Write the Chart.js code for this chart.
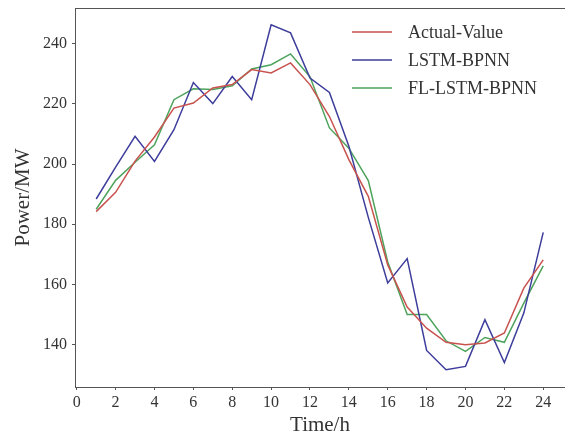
<!DOCTYPE html>
<html>
<head>
<meta charset="utf-8">
<script src="https://cdn.jsdelivr.net/npm/chart.js@4.4.0/dist/chart.umd.min.js"></script>
<style>
    html, body { margin: 0; padding: 0; background: #fff; }
    #wrap { width: 565px; height: 441px; }
</style>
</head>
<body>
<div id="wrap"><canvas id="chart" width="565" height="441"></canvas></div>
<script>
// Data
const hours = [1, 2, 3, 4, 5, 6, 7, 8, 9, 10, 11, 12, 13, 14, 15, 16, 17, 18, 19, 20, 21, 22, 23, 24];
const actualValue = [184.2, 190.6, 201.0, 209.0, 218.6, 220.3, 225.3, 226.4, 231.4, 230.3, 233.6, 226.4,
    215.8, 201.5, 189.3, 166.5, 152.5, 145.5, 140.8, 140.0, 140.6, 143.9, 158.8, 168.2];
const lstmBpnn = [188.4, 199.0, 209.2, 200.9, 211.4, 227.1, 220.1, 229.1, 221.4, 246.3, 243.6, 228.6,
    223.8, 205.9, 182.3, 160.5, 168.6, 138.1, 131.7, 132.8, 148.3, 134.1, 150.5, 177.3];
const flLstmBpnn = [185.0, 194.6, 200.6, 206.4, 221.4, 225.0, 224.8, 226.0, 231.6, 233.0, 236.6, 229.0,
    212.0, 205.3, 194.5, 167.5, 150.0, 150.0, 141.3, 137.8, 142.4, 140.8, 153.8, 166.2];
const seriesNames = ['Actual-Value', 'LSTM-BPNN', 'FL-LSTM-BPNN'];
const xTicks = [0, 2, 4, 6, 8, 10, 12, 14, 16, 18, 20, 22, 24];
const yTicks = [140, 160, 180, 200, 220, 240];

const colors = ['#c8524e', '#3d3d9c', '#4ea35c'];
const axisColor = '#555555';
const textColor = '#333333';
const serif = '"Liberation Serif", "DejaVu Serif", serif';

function toPoints(values) {
    return hours.map((h, i) => ({ x: h, y: values[i] }));
}

// Top spine plus the legend inside the top right corner
const framePlugin = {
    id: 'frame',
    afterDraw(chart) {
        const ctx = chart.ctx;
        const area = chart.chartArea;
        ctx.save();
        ctx.strokeStyle = axisColor;
        ctx.lineWidth = 1;
        ctx.beginPath();
        ctx.moveTo(area.left, area.top + 0.5);
        ctx.lineTo(area.right, area.top + 0.5);
        ctx.stroke();

        const x0 = area.left + 277;
        const y0 = area.top + 24;
        ctx.font = '18px ' + serif;
        ctx.textBaseline = 'middle';
        chart.data.datasets.forEach((ds, i) => {
            const y = y0 + i * 28;
            ctx.strokeStyle = ds.borderColor;
            ctx.lineWidth = 1.5;
            ctx.beginPath();
            ctx.moveTo(x0, y);
            ctx.lineTo(x0 + 40, y);
            ctx.stroke();
            ctx.fillStyle = textColor;
            ctx.fillText(ds.label, x0 + 56, y + 1);
        });
        ctx.restore();
    }
};

const ctx = document.getElementById('chart').getContext('2d');
const chart = new Chart(ctx, {
    type: 'line',
    data: {
        datasets: [actualValue, lstmBpnn, flLstmBpnn].map((values, i) => ({
            label: seriesNames[i],
            data: toPoints(values),
            borderColor: colors[i],
            borderWidth: 1.5,
            pointRadius: 0,
            fill: false,
            tension: 0
        }))
    },
    options: {
        responsive: false,
        animation: false,
        layout: { padding: { top: 8, right: 0, left: 0, bottom: 0 } },
        plugins: {
            legend: { display: false },
            tooltip: { enabled: false }
        },
        scales: {
            x: {
                type: 'linear',
                min: -0.09,
                max: 25.12,
                afterBuildTicks: scale => { scale.ticks = xTicks.map(v => ({ value: v })); },
                afterFit: scale => {
                    scale.height = 54;
                    scale.paddingLeft = 0;
                    scale.paddingRight = 0;
                },
                border: { display: true, color: axisColor },
                grid: { drawOnChartArea: false, drawTicks: true, tickLength: 3, color: axisColor },
                ticks: {
                    color: textColor,
                    padding: 3,
                    maxRotation: 0,
                    font: { family: serif, size: 16 }
                },
                title: {
                    display: true,
                    text: 'Time/h',
                    color: textColor,
                    padding: { top: 0, bottom: 3 },
                    font: { family: serif, size: 21 }
                }
            },
            y: {
                min: 125.95,
                max: 251.85,
                afterBuildTicks: scale => { scale.ticks = yTicks.map(v => ({ value: v })); },
                afterFit: scale => {
                    scale.width = 75;
                    scale.paddingTop = 0;
                    scale.paddingBottom = 0;
                },
                border: { display: true, color: axisColor },
                grid: { drawOnChartArea: false, drawTicks: true, tickLength: 3, color: axisColor },
                ticks: {
                    color: textColor,
                    padding: 5,
                    font: { family: serif, size: 16 }
                },
                title: {
                    display: true,
                    text: 'Power/MW',
                    color: textColor,
                    padding: { top: 10.5, bottom: 0 },
                    font: { family: serif, size: 21 }
                }
            }
        }
    },
    plugins: [framePlugin]
});
</script>
</body>
</html>
